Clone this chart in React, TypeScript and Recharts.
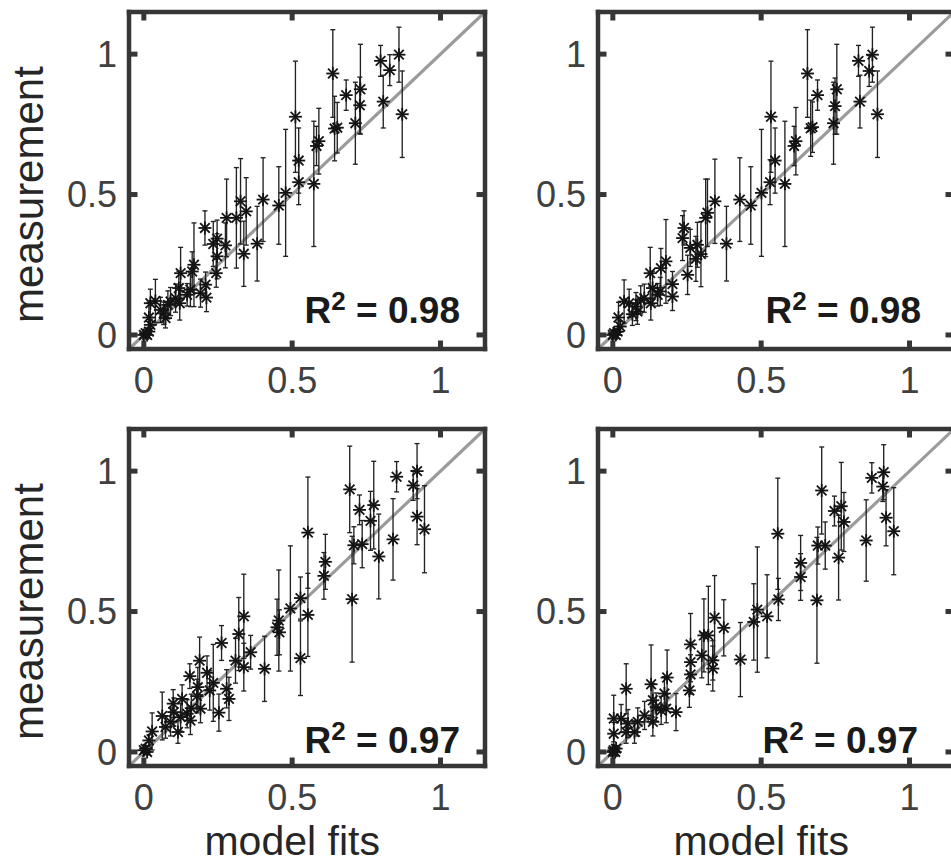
import { ScatterChart, Scatter, XAxis, YAxis, ErrorBar, ReferenceLine } from "recharts";

// axis setup shared by all four panels
const TICKS = [0, 0.5, 1];
const DOMAIN: [number, number] = [-0.05, 1.15];

// top left: model fits / measurement / error half-widths
const TL_X = [0.86, 0.798, 0.829, 0.807, 0.871, 0.637, 0.682, 0.73, 0.728, 0.713, 0.643, 0.652, 0.511, 0.522, 0.522, 0.59, 0.582, 0.573, 0.478, 0.455, 0.402, 0.382, 0.326, 0.345, 0.337, 0.312, 0.279, 0.275, 0.247, 0.234, 0.247, 0.244, 0.206, 0.169, 0.163, 0.124, 0.208, 0.211, 0.191, 0.157, 0.118, 0.121, 0.107, 0.081, 0.067, 0.056, 0.039, 0.022, 0.017, 0.022, 0.006, 0.011, 0.017, 0.0, 0.09, 0.073, 0.146];
const TL_Y = [0.998, 0.976, 0.943, 0.831, 0.786, 0.931, 0.854, 0.875, 0.818, 0.754, 0.735, 0.738, 0.777, 0.621, 0.544, 0.69, 0.673, 0.538, 0.506, 0.461, 0.482, 0.325, 0.476, 0.44, 0.289, 0.417, 0.417, 0.319, 0.343, 0.324, 0.28, 0.22, 0.381, 0.25, 0.226, 0.22, 0.179, 0.133, 0.149, 0.161, 0.167, 0.113, 0.131, 0.107, 0.077, 0.089, 0.121, 0.113, 0.062, 0.036, 0.006, 0.0, 0.012, 0.0, 0.119, 0.06, 0.143];
const TL_ERR = [0.098, 0.055, 0.055, 0.094, 0.154, 0.156, 0.054, 0.16, 0.1, 0.146, 0.115, 0.09, 0.198, 0.116, 0.08, 0.117, 0.07, 0.223, 0.226, 0.138, 0.149, 0.133, 0.152, 0.12, 0.116, 0.179, 0.138, 0.08, 0.066, 0.08, 0.08, 0.05, 0.061, 0.149, 0.07, 0.092, 0.045, 0.05, 0.05, 0.06, 0.06, 0.06, 0.05, 0.05, 0.04, 0.045, 0.077, 0.05, 0.054, 0.02, 0.01, 0.01, 0.01, 0.005, 0.05, 0.035, 0.04];

// top right
const TR_X = [0.875, 0.828, 0.864, 0.833, 0.892, 0.656, 0.69, 0.755, 0.749, 0.744, 0.667, 0.673, 0.533, 0.547, 0.53, 0.617, 0.611, 0.58, 0.501, 0.465, 0.428, 0.383, 0.344, 0.319, 0.313, 0.297, 0.285, 0.28, 0.252, 0.261, 0.24, 0.235, 0.179, 0.162, 0.126, 0.201, 0.201, 0.16, 0.134, 0.128, 0.106, 0.078, 0.066, 0.038, 0.019, 0.025, 0.004, 0.01, 0.016, 0.0, 0.083, 0.055, 0.094, 0.151];
const TR_Y = [0.998, 0.976, 0.94, 0.831, 0.786, 0.931, 0.854, 0.875, 0.815, 0.754, 0.736, 0.74, 0.777, 0.621, 0.544, 0.69, 0.673, 0.538, 0.506, 0.461, 0.482, 0.325, 0.476, 0.435, 0.417, 0.288, 0.321, 0.271, 0.214, 0.31, 0.381, 0.345, 0.262, 0.238, 0.22, 0.181, 0.137, 0.155, 0.167, 0.113, 0.131, 0.101, 0.074, 0.119, 0.062, 0.03, 0.006, 0.0, 0.012, 0.0, 0.083, 0.113, 0.125, 0.143];
const TR_ERR = [0.098, 0.055, 0.055, 0.094, 0.154, 0.156, 0.054, 0.16, 0.1, 0.146, 0.1, 0.09, 0.198, 0.116, 0.08, 0.12, 0.07, 0.223, 0.226, 0.138, 0.149, 0.133, 0.15, 0.12, 0.138, 0.116, 0.08, 0.08, 0.07, 0.066, 0.061, 0.08, 0.149, 0.07, 0.092, 0.045, 0.05, 0.05, 0.06, 0.06, 0.05, 0.05, 0.04, 0.077, 0.054, 0.02, 0.01, 0.01, 0.01, 0.005, 0.045, 0.05, 0.05, 0.04];

// bottom left
const BL_X = [0.921, 0.908, 0.921, 0.946, 0.852, 0.84, 0.694, 0.727, 0.775, 0.764, 0.792, 0.708, 0.736, 0.702, 0.553, 0.612, 0.607, 0.528, 0.553, 0.528, 0.494, 0.455, 0.449, 0.457, 0.407, 0.337, 0.32, 0.36, 0.337, 0.309, 0.262, 0.279, 0.287, 0.253, 0.234, 0.222, 0.213, 0.188, 0.182, 0.179, 0.191, 0.155, 0.16, 0.157, 0.129, 0.099, 0.124, 0.115, 0.09, 0.062, 0.073, 0.028, 0.017, 0.0, 0.006, 0.011, 0.101, 0.146];
const BL_Y = [1.0, 0.949, 0.838, 0.793, 0.98, 0.757, 0.935, 0.862, 0.879, 0.823, 0.696, 0.736, 0.74, 0.544, 0.781, 0.677, 0.627, 0.548, 0.488, 0.334, 0.511, 0.468, 0.444, 0.426, 0.296, 0.483, 0.42, 0.355, 0.302, 0.325, 0.388, 0.225, 0.189, 0.14, 0.246, 0.219, 0.282, 0.325, 0.231, 0.199, 0.154, 0.27, 0.156, 0.112, 0.189, 0.172, 0.124, 0.071, 0.107, 0.128, 0.089, 0.073, 0.041, 0.006, 0.012, 0.0, 0.142, 0.136];
const BL_ERR = [0.098, 0.053, 0.1, 0.155, 0.054, 0.145, 0.154, 0.053, 0.156, 0.105, 0.151, 0.066, 0.084, 0.224, 0.198, 0.098, 0.083, 0.075, 0.148, 0.133, 0.223, 0.18, 0.1, 0.08, 0.116, 0.15, 0.13, 0.06, 0.085, 0.08, 0.062, 0.068, 0.077, 0.066, 0.137, 0.07, 0.06, 0.084, 0.07, 0.06, 0.05, 0.044, 0.05, 0.05, 0.05, 0.05, 0.05, 0.04, 0.05, 0.085, 0.04, 0.066, 0.02, 0.01, 0.01, 0.01, 0.05, 0.05];

// bottom right
const BR_X = [0.913, 0.91, 0.873, 0.921, 0.947, 0.854, 0.704, 0.747, 0.77, 0.779, 0.761, 0.691, 0.716, 0.688, 0.556, 0.633, 0.633, 0.558, 0.52, 0.487, 0.475, 0.43, 0.374, 0.343, 0.322, 0.307, 0.3, 0.337, 0.337, 0.262, 0.262, 0.262, 0.258, 0.183, 0.174, 0.18, 0.213, 0.129, 0.135, 0.135, 0.107, 0.045, 0.003, 0.003, 0.051, 0.073, 0.045, 0.028, 0.146, 0.163, 0.003, 0.011, 0.0, 0.008, 0.084];
const BR_Y = [0.996, 0.945, 0.976, 0.834, 0.786, 0.753, 0.931, 0.858, 0.875, 0.819, 0.692, 0.735, 0.735, 0.54, 0.777, 0.673, 0.623, 0.543, 0.483, 0.507, 0.463, 0.329, 0.442, 0.478, 0.415, 0.415, 0.344, 0.326, 0.297, 0.383, 0.32, 0.276, 0.219, 0.265, 0.208, 0.154, 0.142, 0.241, 0.184, 0.107, 0.13, 0.225, 0.119, 0.065, 0.101, 0.071, 0.071, 0.119, 0.16, 0.148, 0.006, 0.012, 0.0, 0.0, 0.107];
const BR_ERR = [0.098, 0.053, 0.054, 0.1, 0.155, 0.145, 0.155, 0.053, 0.156, 0.105, 0.151, 0.066, 0.084, 0.224, 0.198, 0.098, 0.083, 0.075, 0.148, 0.223, 0.136, 0.132, 0.1, 0.15, 0.175, 0.13, 0.08, 0.07, 0.08, 0.11, 0.07, 0.07, 0.06, 0.098, 0.06, 0.05, 0.066, 0.14, 0.06, 0.05, 0.05, 0.089, 0.083, 0.04, 0.05, 0.04, 0.04, 0.05, 0.05, 0.05, 0.01, 0.01, 0.005, 0.01, 0.05];

const R2_TOP = "0.98";
const R2_BOTTOM = "0.97";

const PLOT_W = 356;
const PLOT_H = 337;
const LEFT = 129;
const TOP = 12;
const BOTTOM_H = 100;
const RIGHT_M = 10;
const CHART_W = LEFT + PLOT_W + RIGHT_M;
const CHART_H = TOP + PLOT_H + BOTTOM_H;

const FRAME = "#363636";
const FONT = '"Liberation Sans", Arial, Helvetica, sans-serif';
const TICK_LEN = 8.5;

const frameLine = { stroke: FRAME, strokeWidth: 4.5, strokeLinecap: "square" as const };
const tickLineStyle = { stroke: FRAME, strokeWidth: 5 };
const tickText = { fontSize: 36, fill: "#404040", fontFamily: FONT };

function Asterisk(props: any) {
  const { cx, cy } = props;
  if (cx == null || cy == null) return null;
  const r = 6.5;
  const d = 4.8;
  return (
    <g stroke="#141414" strokeWidth={1.8}>
      <line x1={cx - r} y1={cy} x2={cx + r} y2={cy} />
      <line x1={cx} y1={cy - r} x2={cx} y2={cy + r} />
      <line x1={cx - d} y1={cy - d} x2={cx + d} y2={cy + d} />
      <line x1={cx - d} y1={cy + d} x2={cx + d} y2={cy - d} />
    </g>
  );
}

// mirrored axes only carry the frame and the inward ticks
const Nothing = () => <g />;

interface PanelProps {
  left: number;
  top: number;
  xs: number[];
  ys: number[];
  errs: number[];
  r2: string;
  r2x: number;
  r2y: number;
  yTitle?: boolean;
  xTitle?: boolean;
}

function Panel({ left, top, xs, ys, errs, r2, r2x, r2y, yTitle, xTitle }: PanelProps) {
  const data = xs.map((x, i) => ({ x, y: ys[i], e: errs[i] }));
  const midY = TOP + ((DOMAIN[1] - 0.5) / (DOMAIN[1] - DOMAIN[0])) * PLOT_H;
  const midX = LEFT + ((0.5 - DOMAIN[0]) / (DOMAIN[1] - DOMAIN[0])) * PLOT_W;

  const common = {
    type: "number" as const,
    domain: DOMAIN,
    ticks: TICKS,
    interval: 0 as const,
    allowDataOverflow: true,
  };

  return (
    <div style={{ position: "absolute", left, top }}>
      <ScatterChart
        width={CHART_W}
        height={CHART_H}
        margin={{ top: TOP, right: RIGHT_M, bottom: 0, left: 0 }}
      >
        <XAxis
          {...common}
          xAxisId={0}
          dataKey="x"
          height={BOTTOM_H}
          axisLine={frameLine}
          tickLine={false}
          tickSize={0}
          tickMargin={18}
          tick={tickText}
        />
        <YAxis
          {...common}
          yAxisId={0}
          dataKey="y"
          width={LEFT}
          axisLine={frameLine}
          tickLine={false}
          tickSize={0}
          tickMargin={12}
          tick={tickText}
        />
        <XAxis
          {...common}
          xAxisId="top"
          dataKey="x"
          orientation="top"
          mirror
          axisLine={frameLine}
          tickLine={tickLineStyle}
          tickSize={TICK_LEN}
          tick={Nothing}
        />
        <YAxis
          {...common}
          yAxisId="right"
          dataKey="y"
          orientation="right"
          mirror
          axisLine={frameLine}
          tickLine={tickLineStyle}
          tickSize={TICK_LEN}
          tick={Nothing}
        />
        <XAxis
          {...common}
          xAxisId="bottomIn"
          dataKey="x"
          orientation="bottom"
          mirror
          axisLine={false}
          tickLine={tickLineStyle}
          tickSize={TICK_LEN}
          tick={Nothing}
        />
        <YAxis
          {...common}
          yAxisId="leftIn"
          dataKey="y"
          orientation="left"
          mirror
          axisLine={false}
          tickLine={tickLineStyle}
          tickSize={TICK_LEN}
          tick={Nothing}
        />
        <Scatter data={data} xAxisId="top" yAxisId="right" shape={Nothing} legendType="none" isAnimationActive={false} />
        <Scatter data={data} xAxisId="bottomIn" yAxisId="leftIn" shape={Nothing} legendType="none" isAnimationActive={false} />
        <ReferenceLine
          segment={[
            { x: DOMAIN[0], y: DOMAIN[0] },
            { x: DOMAIN[1], y: DOMAIN[1] },
          ]}
          stroke="#9b9b9b"
          strokeWidth={3.2}
        />
        <Scatter data={data} shape={Asterisk} isAnimationActive={false}>
          <ErrorBar dataKey="e" direction="y" width={2.5} stroke="#222" strokeWidth={1.35} />
        </Scatter>
        <text
          x={r2x}
          y={r2y}
          textAnchor="end"
          fontFamily={FONT}
          fontWeight="bold"
          fontSize={37}
          fill="#1a1a1a"
        >
          R<tspan fontSize={26} dy={-13}>2</tspan>
          <tspan dy={13}>{" = " + r2}</tspan>
        </text>
        {yTitle && (
          <text
            x={43}
            y={midY}
            transform={`rotate(-90 43 ${midY})`}
            textAnchor="middle"
            fontFamily={FONT}
            fontSize={42}
            fill="#262626"
          >
            measurement
          </text>
        )}
        {xTitle && (
          <text
            x={midX}
            y={438}
            textAnchor="middle"
            fontFamily={FONT}
            fontSize={41}
            fill="#262626"
          >
            model fits
          </text>
        )}
      </ScatterChart>
    </div>
  );
}

export default function App() {
  return (
    <div
      style={{
        position: "absolute",
        left: 0,
        top: 0,
        width: 951,
        height: 865,
        overflow: "hidden",
        background: "#fff",
      }}
    >
      <Panel left={0} top={0} xs={TL_X} ys={TL_Y} errs={TL_ERR} r2={R2_TOP} r2x={460} r2y={323} yTitle />
      <Panel left={469} top={0} xs={TR_X} ys={TR_Y} errs={TR_ERR} r2={R2_TOP} r2x={452} r2y={323} />
      <Panel left={0} top={417} xs={BL_X} ys={BL_Y} errs={BL_ERR} r2={R2_BOTTOM} r2x={460} r2y={336} yTitle xTitle />
      <Panel left={469} top={417} xs={BR_X} ys={BR_Y} errs={BR_ERR} r2={R2_BOTTOM} r2x={449} r2y={336} xTitle />
    </div>
  );
}
